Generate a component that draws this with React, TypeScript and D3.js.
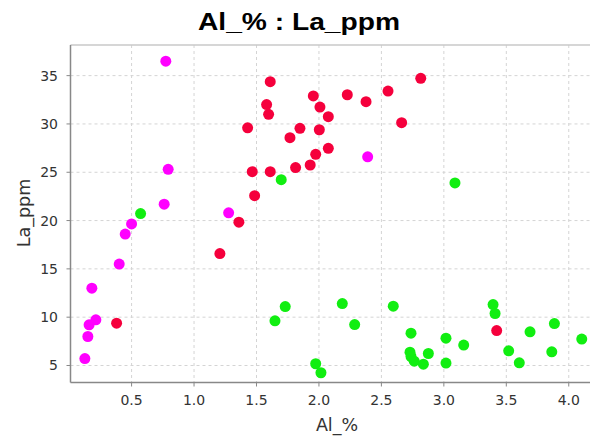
import React from "react";
import * as d3 from "d3";

const redX = [0.38, 1.207, 1.359, 1.485, 1.466, 1.61, 1.429, 1.581, 1.597, 1.61, 1.768, 1.813, 1.848, 2.003, 1.955, 2.008, 2.075, 2.075, 1.974, 1.93, 2.227, 2.377, 2.553, 2.815, 2.662, 3.423];
const redY = [9.38, 16.58, 19.83, 22.58, 25.06, 25.06, 29.6, 32.0, 31.0, 34.37, 28.58, 25.48, 29.55, 29.4, 32.9, 31.75, 30.75, 27.48, 26.86, 25.75, 33.02, 32.3, 33.4, 34.72, 30.13, 8.62];

const magentaX = [0.774, 0.793, 0.761, 1.277, 0.5, 0.449, 0.401, 0.182, 0.214, 0.16, 0.15, 0.126, 2.39];
const magentaY = [36.5, 25.3, 21.7, 20.8, 19.65, 18.6, 15.5, 13.0, 9.73, 9.21, 8.0, 5.72, 26.6];

const greenX = [0.572, 1.698, 3.089, 1.648, 1.73, 2.187, 2.286, 1.974, 2.016, 2.595, 2.737, 2.729, 2.737, 2.763, 2.836, 2.876, 3.017, 3.017, 3.159, 3.394, 3.41, 3.519, 3.604, 3.69, 3.885, 3.864, 4.104];
const greenY = [20.72, 24.23, 23.9, 9.62, 11.1, 11.41, 9.24, 5.18, 4.25, 11.14, 8.35, 6.38, 5.93, 5.45, 5.14, 6.24, 7.83, 5.25, 7.11, 11.31, 10.38, 6.52, 5.28, 8.48, 9.34, 6.42, 7.73];

const xTicks = [0.5, 1.0, 1.5, 2.0, 2.5, 3.0, 3.5, 4.0];
const yTicks = [5, 10, 15, 20, 25, 30, 35];

const title = "Al_% : La_ppm";
const xLabel = "Al_%";
const yLabel = "La_ppm";

const series = [
  { name: "magenta", color: "#ff00ff", xs: magentaX, ys: magentaY },
  { name: "red", color: "#f5003c", xs: redX, ys: redY },
  { name: "green", color: "#11ee11", xs: greenX, ys: greenY },
];

export default function App() {
  const W = 597, H = 439;
  const left = 70.5, right = 590, top = 45, bottom = 382.5;
  const x = d3.scaleLinear().domain([0.011, 4.17]).range([left, right]);
  const y = d3.scaleLinear().domain([3.24, 38.17]).range([bottom, top]);
  const font = "'DejaVu Sans', sans-serif";
  const titleFont = "'Liberation Sans', Arial, sans-serif";
  return (
    <svg width={W} height={H} style={{ position: "absolute", left: 0, top: 0, background: "#fff" }}>
      <rect x={0} y={0} width={W} height={H} fill="#fff" />
      <text x={198} y={30} fontFamily={titleFont} fontWeight="bold" fontSize={23.5} fill="#000" textLength={202} lengthAdjust="spacingAndGlyphs">{title}</text>
      {xTicks.map((t) => (
        <line key={"gx" + t} x1={x(t)} x2={x(t)} y1={top} y2={bottom} stroke="#d4d4d4" strokeDasharray="3,3" />
      ))}
      {yTicks.map((t) => (
        <line key={"gy" + t} x1={left} x2={right} y1={y(t)} y2={y(t)} stroke="#d4d4d4" strokeDasharray="3,3" />
      ))}
      <line x1={left} x2={right} y1={top} y2={top} stroke="#c8c8c8" strokeWidth={1.5} />
      <line x1={left} x2={left} y1={top} y2={bottom} stroke="#888" strokeWidth={1.5} />
      <line x1={left} x2={right} y1={bottom} y2={bottom} stroke="#888" strokeWidth={1.5} />
      {yTicks.map((t) => (
        <g key={"ty" + t}>
          <line x1={left - 4} x2={left} y1={y(t)} y2={y(t)} stroke="#888" />
          <text x={58} y={y(t) + 5} textAnchor="end" fontFamily={font} fontSize={14} fill="#333">{t}</text>
        </g>
      ))}
      {xTicks.map((t) => (
        <g key={"tx" + t}>
          <line x1={x(t)} x2={x(t)} y1={bottom} y2={bottom + 4} stroke="#888" />
          <text x={x(t)} y={404.5} textAnchor="middle" fontFamily={font} fontSize={14} fill="#333">{t.toFixed(1)}</text>
        </g>
      ))}
      <text x={337} y={431} textAnchor="middle" fontFamily={font} fontSize={17.5} fill="#333">{xLabel}</text>
      <text transform={`translate(29.5,213) rotate(-90)`} textAnchor="middle" fontFamily={font} fontSize={17.5} fill="#333">{yLabel}</text>
      {series.map((s) =>
        s.xs.map((v, i) => (
          <circle key={s.name + i} cx={x(v)} cy={y(s.ys[i])} r={5.5} fill={s.color} />
        ))
      )}
    </svg>
  );
}
